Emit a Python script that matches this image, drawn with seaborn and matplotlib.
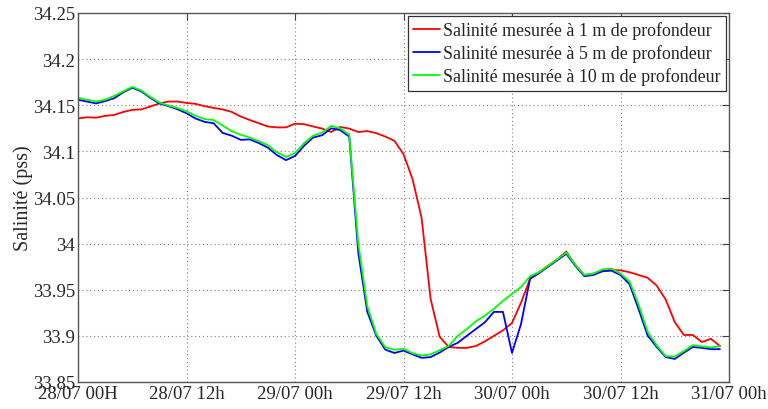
import matplotlib
matplotlib.use("Agg")
import matplotlib.pyplot as plt
from matplotlib.lines import Line2D
import numpy as np
import pandas as pd
import seaborn as sns

# Hourly salinity readings from 28/07 00h to 30/07 23h
hours = list(range(72))

sal_1m = [34.1356, 34.137, 34.1365, 34.1385, 34.1395, 34.1427, 34.145, 34.1455, 34.1486, 34.152,
          34.154, 34.154, 34.1525, 34.1515, 34.149, 34.1471, 34.1455, 34.1428, 34.1378, 34.134,
          34.1305, 34.127, 34.126, 34.126, 34.130, 34.1295, 34.127, 34.1247, 34.121, 34.1265,
          34.1247, 34.121, 34.122, 34.1197, 34.116, 34.1114, 34.097, 34.070, 34.028, 33.940,
          33.899, 33.888, 33.887, 33.887, 33.889, 33.894, 33.900, 33.906, 33.914, 33.936,
          33.962, 33.969, 33.976, 33.983, 33.9915, 33.977, 33.966, 33.9675, 33.971, 33.9715,
          33.971, 33.969, 33.966, 33.963, 33.9545, 33.9394, 33.915, 33.901, 33.901, 33.8933,
          33.8968, 33.889]

sal_5m = [34.156, 34.154, 34.152, 34.1545, 34.1576, 34.164, 34.169, 34.165, 34.158, 34.152,
          34.149, 34.1457, 34.1413, 34.1356, 34.132, 34.1305, 34.120, 34.117, 34.1125, 34.113,
          34.109, 34.104, 34.096, 34.0905, 34.095, 34.106, 34.115, 34.1175, 34.125, 34.123,
          34.116, 33.990, 33.926, 33.900, 33.885, 33.8815, 33.884, 33.880, 33.8762, 33.877,
          33.882, 33.888, 33.8925, 33.900, 33.9074, 33.9147, 33.926, 33.926, 33.8815, 33.913,
          33.962, 33.968, 33.975, 33.982, 33.989, 33.976, 33.9647, 33.966, 33.970, 33.9707,
          33.966, 33.956, 33.929, 33.9004, 33.888, 33.877, 33.875, 33.8817, 33.888, 33.887,
          33.8856, 33.8856]

sal_10m = [34.158, 34.156, 34.154, 34.156, 34.160, 34.165, 34.170, 34.166, 34.159, 34.153,
           34.1497, 34.147, 34.1435, 34.1385, 34.135, 34.134, 34.128, 34.122, 34.118, 34.115,
           34.111, 34.1066, 34.099, 34.094, 34.098, 34.109, 34.117, 34.1204, 34.1276, 34.125,
           34.118, 34.000, 33.932, 33.902, 33.8875, 33.885, 33.886, 33.8812, 33.8787, 33.880,
           33.8845, 33.889, 33.900, 33.9074, 33.9158, 33.922, 33.9293, 33.938, 33.9455, 33.953,
           33.9647, 33.969, 33.976, 33.983, 33.9905, 33.977, 33.966, 33.9675, 33.972, 33.973,
           33.9675, 33.959, 33.934, 33.9045, 33.8897, 33.878, 33.8775, 33.8835, 33.890, 33.8886,
           33.8875, 33.889]

series_names = ["Salinité mesurée à 1 m de profondeur",
                "Salinité mesurée à 5 m de profondeur",
                "Salinité mesurée à 10 m de profondeur"]
series_colors = ["#ff0000", "#0000ff", "#00ff00"]

x_ticks = [0, 12, 24, 36, 48, 60, 72]
x_tick_labels = ["28/07 00H", "28/07 12h", "29/07 00h", "29/07 12h",
                 "30/07 00h", "30/07 12h", "31/07 00h"]
y_ticks = [33.85, 33.9, 33.95, 34.0, 34.05, 34.1, 34.15, 34.2, 34.25]
y_tick_labels = ["33.85", "33.9", "33.95", "34", "34.05", "34.1", "34.15", "34.2", "34.25"]

df = pd.DataFrame({
    "heure": hours * 3,
    "salinite": sal_1m + sal_5m + sal_10m,
    "serie": [series_names[0]] * len(hours) + [series_names[1]] * len(hours)
             + [series_names[2]] * len(hours),
})

sns.set_style("white")
plt.rcParams["font.family"] = ["Liberation Serif", "DejaVu Serif"]

fig = plt.figure(figsize=(7.68, 4.10), dpi=100)
ax = fig.add_axes([78 / 768, 1 - 383 / 410, (729 - 78) / 768, (383 - 14) / 410])

sns.lineplot(data=df, x="heure", y="salinite", hue="serie",
             palette=dict(zip(series_names, series_colors)),
             linewidth=1.3, ax=ax, legend=False)

ax.set_xlim(0, 72)
ax.set_ylim(33.85, 34.25)
ax.set_xticks(x_ticks)
ax.set_xticklabels(x_tick_labels)
ax.set_yticks(y_ticks)
ax.set_yticklabels(y_tick_labels)
ax.set_xlabel("")
ax.set_ylabel("Salinité (pss)", fontsize=14.5, labelpad=0)

ax.grid(True, linestyle=(0, (1, 2.5)), color="#808080", linewidth=0.8)
ax.tick_params(direction="in", length=5, width=0.8, color="#404040",
               top=True, right=True, labelsize=13.5, pad=2)
for side in ax.spines.values():
    side.set_visible(True)
    side.set_color("#555555")
    side.set_linewidth(1.0)

handles = [Line2D([], [], color=c, linewidth=1.3) for c in series_colors]
leg = ax.legend(handles, series_names, loc="upper right", bbox_to_anchor=(1.0, 1.0),
                borderaxespad=0.15, fontsize=12.85, frameon=True, fancybox=False,
                framealpha=1, edgecolor="#333333", handlelength=1.5,
                handletextpad=0.2, labelspacing=0.3, borderpad=0.3)
leg.get_frame().set_linewidth(0.9)

fig.savefig("out.png", dpi=100)
